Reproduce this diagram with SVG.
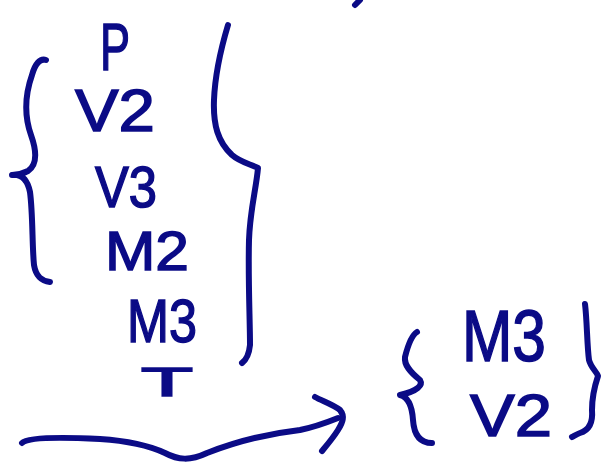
<svg xmlns="http://www.w3.org/2000/svg" width="606" height="465" viewBox="0 0 606 465">
<style>
.ink{fill:none;stroke:#0b0b86;stroke-width:6;stroke-linecap:round;stroke-linejoin:round}
.t{font-family:"Liberation Sans","DejaVu Sans",sans-serif;fill:#0b0b86;stroke:#0b0b86;stroke-width:1.5}
</style>
<rect width="606" height="465" fill="#fff"/>
<g id="left-set">
<path class="ink" d="M46,60 C40,58 35,64 32,75 C25,95 24,115 31,135 C37,152 37,165 28,171 C22,174 16,175 12,175 C20,174 27,178 30,192 C33,215 32,245 34,265 C36,277 42,281 50,282"/>
<path class="ink" d="M228,25 C222,45 215,75 214,100 C213,125 218,142 232,155 C240,162 250,164 258,168 C256,190 250,210 249,240 C248,280 250,320 250,345 C249,355 246,360 242,363"/>
<text class="t" x="100" y="70" font-size="66" textLength="30" lengthAdjust="spacingAndGlyphs">P</text>
<text class="t" x="75" y="131" font-size="60" textLength="80" lengthAdjust="spacingAndGlyphs">V2</text>
<text class="t" x="95" y="207" font-size="58" textLength="62" lengthAdjust="spacingAndGlyphs">V3</text>
<text class="t" x="105" y="270" font-size="56" textLength="84" lengthAdjust="spacingAndGlyphs">M2</text>
<text class="t" x="127" y="342" font-size="62" textLength="70" lengthAdjust="spacingAndGlyphs">M3</text>
<text class="t" x="141" y="396" font-size="40" textLength="52" lengthAdjust="spacingAndGlyphs" stroke-width="0.5">T</text>
</g>
<g id="right-set">
<path class="ink" d="M417,332 C412,335 408,345 405,357 C404,365 410,372 420,380 C423,385 418,391 400,395 C408,397 412,405 413,420 C414,435 420,443 432,443"/>
<path class="ink" d="M585,304 C587,320 587,345 589,360 C591,368 597,372 598,376 C595,385 592,395 592,410 C593,422 590,430 580,433 C577,434 574,436 572,437"/>
<text class="t" x="462" y="361" font-size="72" textLength="84" lengthAdjust="spacingAndGlyphs">M3</text>
<text class="t" x="470" y="436" font-size="60" textLength="82" lengthAdjust="spacingAndGlyphs">V2</text>
</g>
<g id="connectors">
<path class="ink" d="M22,443 C28,437 60,437 100,439 C130,441 150,446 165,453 C178,460 190,461 207,453 C230,444 265,434 300,430 C315,427 328,422 338,418"/>
<path class="ink" d="M315,397 C322,401 332,404 340,410 C345,416 343,422 338,430 C333,438 327,445 322,451"/>
<path class="ink" d="M355,5 L360,0"/>
</g>
</svg>
